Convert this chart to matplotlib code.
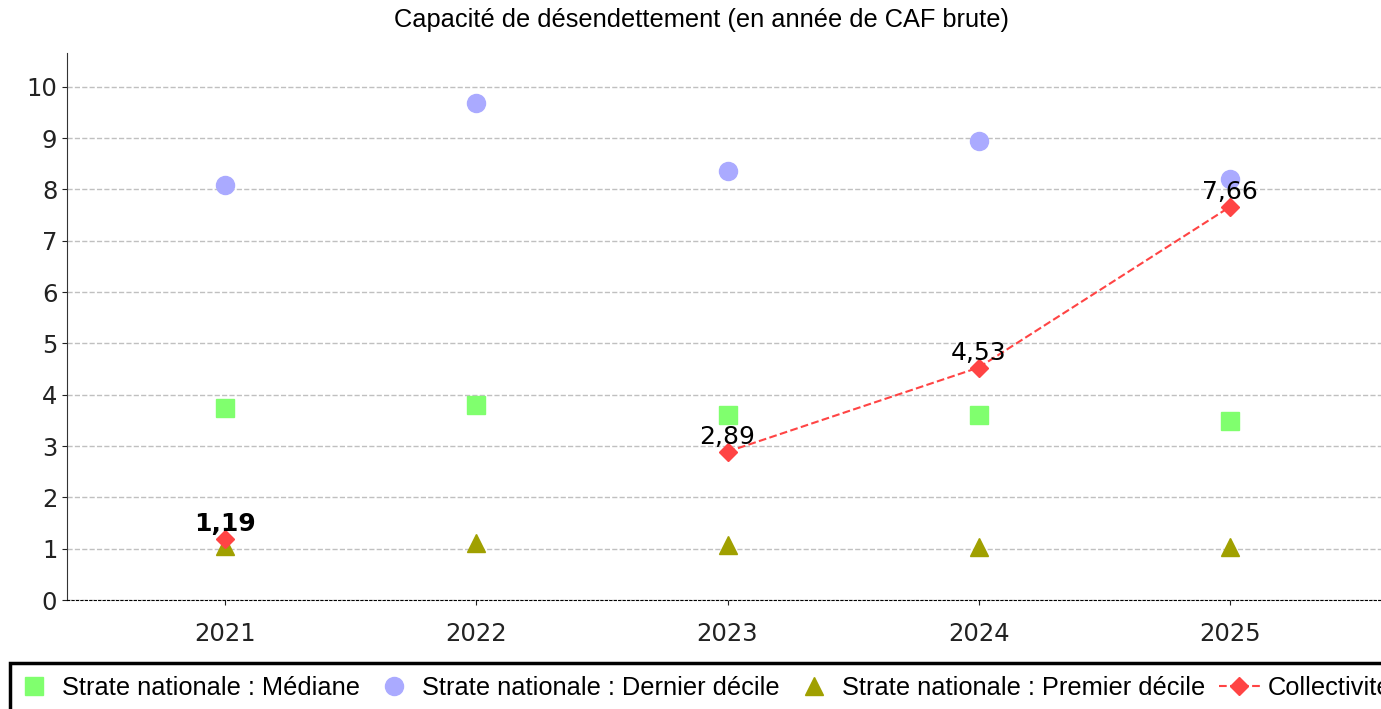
import numpy as np
import matplotlib
matplotlib.use("Agg")
import matplotlib.pyplot as plt
from matplotlib.patches import Rectangle

years = ["2021", "2022", "2023", "2024", "2025"]
mediane = [3.75, 3.80, 3.60, 3.60, 3.48]
dernier_decile = [8.09, 9.69, 8.36, 8.95, 8.21]
premier_decile = [1.05, 1.12, 1.08, 1.03, 1.03]
collectivite = [1.19, np.nan, 2.89, 4.53, 7.66]
labels_coll = ["1,19", "", "2,89", "4,53", "7,66"]

W, H = 1381, 709
fig = plt.figure(figsize=(W / 100, H / 100), dpi=100)
ax = fig.add_axes([67 / W, 1 - 600 / H, (1388 - 67) / W, (600 - 53) / H])

x = np.arange(len(years))
ax.plot(x, mediane, "s", color="#80ff6e", markersize=13, label="Strate nationale : Médiane", zorder=3)
ax.plot(x, dernier_decile, "o", color="#aaaaff", markersize=13, label="Strate nationale : Dernier décile", zorder=3)
ax.plot(x, premier_decile, "^", color="#a0a000", markersize=13, label="Strate nationale : Premier décile", zorder=3)
ax.plot(x, collectivite, "--D", color="#ff4444", markersize=9, linewidth=1.5, label="Collectivité", zorder=4)

for i, (v, t) in enumerate(zip(collectivite, labels_coll)):
    if t:
        ax.annotate(t, (x[i], v), xytext=(0, 10.5), textcoords="offset points", ha="center", va="center",
                    fontsize=18, fontweight="bold" if i == 0 else "normal", zorder=5)

ax.set_xlim(-0.63, 4.63)
ax.set_ylim(0, 10.66)
ax.set_xticks(x)
ax.set_xticklabels(years)
ax.set_yticks(range(0, 11))
ax.tick_params(labelsize=17.5, colors="#222222")
ax.tick_params(axis="x", pad=12)
ax.yaxis.grid(True, linestyle="--", color="#c0c0c0", linewidth=1)
ax.set_axisbelow(True)
for s in ["top", "right"]:
    ax.spines[s].set_visible(False)
ax.spines["left"].set_color("#333333")
ax.spines["bottom"].set_linestyle((0, (2, 2)))
ax.spines["bottom"].set_color("black")

fig.text(702 / W, 1 - 20 / H, "Capacité de désendettement (en année de CAF brute)",
         ha="center", va="center", fontsize=18.3, family="Liberation Sans")

# legend box runs off the right and bottom edges, as in the original
fig.patches.append(Rectangle((10 / W, -0.05), 1.0, 1 - 663 / H + 0.05, transform=fig.transFigure,
                             fill=False, edgecolor="black", linewidth=2.5))
leg = fig.legend(loc="center left", bbox_to_anchor=(14 / W, 1 - 688 / H), ncol=4,
                 prop={"family": "Liberation Sans", "size": 18.25}, frameon=False,
                 handlelength=1.6, handletextpad=0.3, columnspacing=0.55, borderpad=0,
                 borderaxespad=0, markerscale=1.0)

fig.savefig("out.png", dpi=100)
